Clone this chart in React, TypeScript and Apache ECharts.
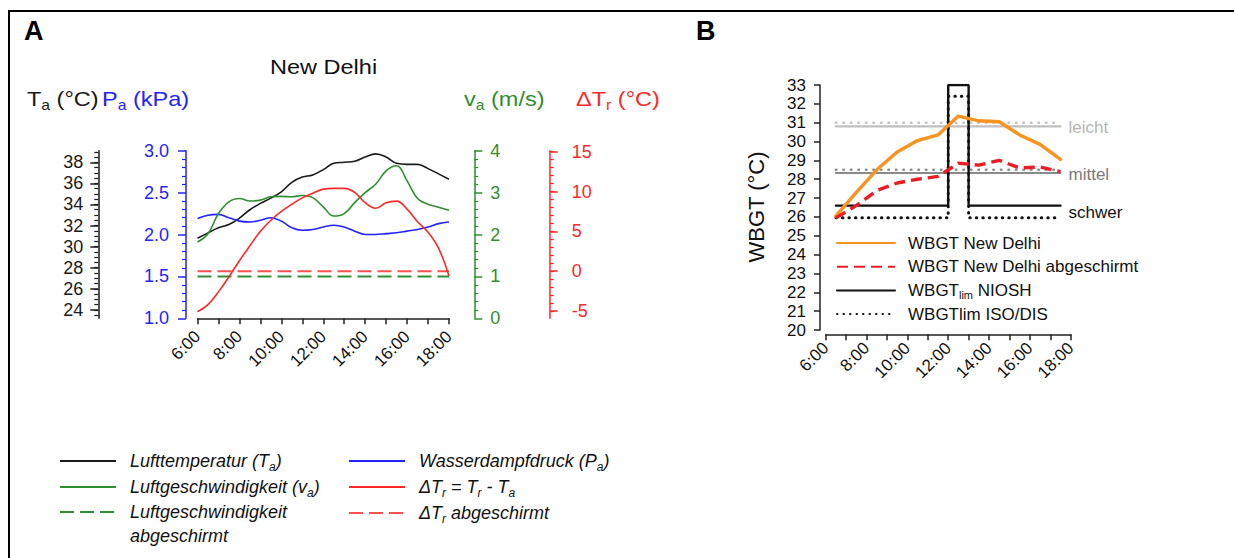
import React, { useEffect, useRef } from 'react';
import * as echarts from 'echarts';

// ---------- Panel A: New Delhi, half-hourly readings ----------
const hoursA = [6, 6.5, 7, 7.5, 8, 8.5, 9, 9.5, 10, 10.5, 11, 11.5, 12, 12.5, 13, 13.5, 14, 14.5, 15, 15.5, 16, 16.5, 17, 17.5, 18];
const airTemp = [30.8, 31.3, 31.8, 32.1, 32.7, 33.5, 34.1, 34.6, 35.2, 36.1, 36.6, 36.8, 37.3, 37.9, 38.0, 38.1, 38.5, 38.8, 38.5, 37.9, 37.8, 37.8, 37.4, 36.9, 36.4];
const vapourPressure = [2.19, 2.23, 2.24, 2.2, 2.16, 2.15, 2.17, 2.2, 2.16, 2.08, 2.05, 2.06, 2.09, 2.11, 2.09, 2.04, 2.0, 2.0, 2.01, 2.02, 2.04, 2.06, 2.09, 2.13, 2.15];
const windSpeed = [1.82, 2.02, 2.5, 2.78, 2.86, 2.8, 2.82, 2.9, 2.91, 2.9, 2.93, 2.88, 2.66, 2.44, 2.5, 2.76, 3.0, 3.2, 3.52, 3.64, 3.28, 2.86, 2.72, 2.65, 2.58];
const deltaTr = [-5.1, -4.2, -2.6, -0.7, 1.3, 3.2, 5.0, 6.4, 7.5, 8.4, 9.2, 9.8, 10.3, 10.4, 10.4, 9.9, 8.6, 7.9, 8.6, 8.8, 7.8, 6.2, 4.9, 2.9, -0.6];
const shieldHours = [6, 18];
const windShielded = [1, 1];
const deltaTrShielded = [0, 0];

const taTicks = [24, 26, 28, 30, 32, 34, 36, 38];
const trTicks = [-5, 0, 5, 10, 15];

// ---------- Panel B: WBGT ----------
const hoursB = [6.5, 7.5, 8.5, 9.5, 10.5, 11.5, 12.5, 13.5, 14.5, 15.5, 16.5, 17.5];
const wbgtDelhi = [26.05, 27.3, 28.5, 29.45, 30.05, 30.35, 31.35, 31.1, 31.05, 30.35, 29.85, 29.05];
const wbgtShielded = [25.95, 26.6, 27.4, 27.8, 28.0, 28.15, 28.85, 28.75, 29.0, 28.6, 28.65, 28.4];
const limitHours = [6.5, 12, 12, 13, 13, 17.5];
const nioshLimit = [26.6, 26.6, 33, 33, 26.6, 26.6];
const isoLimit = [25.95, 25.95, 32.4, 32.4, 25.95, 25.95];
const workHours = [6.5, 17.5];
const lightNiosh = [30.8, 30.8];
const lightIso = [31.0, 31.0];
const moderateNiosh = [28.33, 28.33];
const moderateIso = [28.5, 28.5];

const FONT = '"Liberation Sans", Arial, Helvetica, sans-serif';
const BLACK = '#1a1a1a';
const BLUE = '#2323ff';
const GREEN = '#2e8f2e';
const RED = '#ff2828';

const zip = (xs: number[], ys: number[]) => xs.map((x, i) => [x, ys[i]]);
const steps = (from: number, to: number, step: number) => {
  const out: number[] = [];
  for (let v = from; v <= to + 1e-9; v += step) out.push(Math.round(v * 100) / 100);
  return out;
};
const taMinor = steps(23.5, 39, 0.5);
const trMinor = steps(-5, 15, 1);
const hourLabel = (v: number) => (v % 2 === 0 ? `${v}:00` : '');

const legendNamesA: Record<string, string> = {
  'Lufttemperatur (Ta)': 'Lufttemperatur (T{s|a})',
  'Luftgeschwindigkeit (va)': 'Luftgeschwindigkeit (v{s|a})',
  'Luftgeschwindigkeit abgeschirmt': 'Luftgeschwindigkeit\nabgeschirmt',
  'Wasserdampfdruck (Pa)': 'Wasserdampfdruck (P{s|a})',
  'ΔTr = Tr - Ta': 'ΔT{s|r} = T{s|r} - T{s|a}',
  'ΔTr abgeschirmt': 'ΔT{s|r} abgeschirmt',
};

function buildOption() {
  const lineA = (name: string, xs: number[], ys: number[], y: number, color: string, dashed = false) => ({
    name,
    type: 'line',
    xAxisIndex: 0,
    yAxisIndex: y,
    data: zip(xs, ys),
    smooth: dashed ? false : 0.4,
    symbol: 'none',
    silent: true,
    lineStyle: dashed ? { color, width: 2, type: [14, 6] } : { color, width: 1.6 },
    itemStyle: { color },
  });

  const lineB = (name: string, xs: number[], ys: number[], color: string, width: number, type: any, extra: any = {}) => ({
    name,
    type: 'line',
    xAxisIndex: 1,
    yAxisIndex: 6,
    data: zip(xs, ys),
    symbol: 'none',
    silent: true,
    lineStyle: { color, width, type, cap: 'round' },
    itemStyle: { color },
    ...extra,
  });

  const legendA = (left: number, top: number, data: string[], padTop = 0) => ({
    orient: 'vertical',
    left,
    top,
    height: 160,
    padding: 0,
    itemWidth: 56,
    itemHeight: 14,
    itemGap: 2,
    selectedMode: false,
    data,
    itemStyle: { opacity: 0, borderWidth: 0 },
    formatter: (n: string) => legendNamesA[n] || n,
    textStyle: {
      fontSize: 18,
      fontStyle: 'italic',
      fontFamily: FONT,
      color: '#111',
      lineHeight: 24,
      padding: [padTop, 0, 0, 9],
      rich: {
        s: { fontSize: 12, fontStyle: 'italic', fontFamily: FONT, color: '#111', verticalAlign: 'bottom', lineHeight: 12 },
      },
    },
  });

  const axisTitle = (x: number, main: string, sub: string, rest: string, color: string) => ({
    type: 'text',
    x,
    y: 99,
    scaleX: 1.12,
    silent: true,
    style: {
      text: `${main}{s|${sub}} ${rest}`,
      fill: color,
      fontSize: 21,
      fontFamily: FONT,
      verticalAlign: 'middle',
      textVerticalAlign: 'middle',
      lineHeight: 26,
      rich: {
        s: { fontSize: 14, fontFamily: FONT, fill: color, verticalAlign: 'bottom', lineHeight: 14 },
      },
    },
  });

  return {
    animation: false,
    backgroundColor: '#ffffff',
    textStyle: { fontFamily: FONT },
    grid: [
      { left: 197.5, top: 150.7, width: 251.5, height: 167.6, outerBoundsMode: 'none', containLabel: false },
      { left: 825.7, top: 85, width: 245, height: 245, outerBoundsMode: 'none', containLabel: false },
    ],
    xAxis: [
      {
        gridIndex: 0, type: 'value', min: 6, max: 18, interval: 1, offset: 4.5,
        axisLine: { lineStyle: { color: '#222', width: 1.5 } },
        axisTick: { length: 6, lineStyle: { color: '#222', width: 1.5 } },
        axisLabel: { rotate: 45, fontSize: 17, color: '#111', margin: 11, formatter: hourLabel, fontFamily: FONT },
        splitLine: { show: false },
      },
      {
        gridIndex: 1, type: 'value', min: 6, max: 18, interval: 1, offset: 4.3,
        axisLine: { lineStyle: { color: '#222', width: 1.5 } },
        axisTick: { length: 6, lineStyle: { color: '#222', width: 1.5 } },
        axisLabel: { rotate: 45, fontSize: 17, color: '#111', margin: 11, formatter: hourLabel, fontFamily: FONT },
        splitLine: { show: false },
      },
    ],
    yAxis: [
      // 0: vapour pressure (blue)
      {
        gridIndex: 0, type: 'value', position: 'left', offset: 11.5, min: 1, max: 3, interval: 0.5,
        axisLine: { show: true, lineStyle: { color: BLUE, width: 1.5 } },
        axisTick: { show: true, length: 8, lineStyle: { color: BLUE, width: 1.5 } },
        minorTick: { show: true, splitNumber: 5, length: 4, lineStyle: { color: BLUE, width: 1.2 } },
        axisLabel: { color: BLUE, fontSize: 18, margin: 17, formatter: (v: number) => v.toFixed(1), fontFamily: FONT },
        splitLine: { show: false },
      },
      // 1: air temperature (black)
      {
        gridIndex: 0, type: 'value', position: 'left', offset: 99.2, min: 23.2, max: 39.1,
        axisLine: { show: true, lineStyle: { color: BLACK, width: 1.5 } },
        axisTick: { show: true, length: 8, customValues: taTicks, lineStyle: { color: BLACK, width: 1.5 } },
        axisLabel: { color: BLACK, fontSize: 18, margin: 15, customValues: taTicks, fontFamily: FONT },
        splitLine: { show: false },
      },
      // 2: air temperature minor ticks
      {
        gridIndex: 0, type: 'value', position: 'left', offset: 99.2, min: 23.2, max: 39.1,
        axisLine: { show: false },
        axisTick: { show: true, length: 4, customValues: taMinor, lineStyle: { color: BLACK, width: 1.2 } },
        axisLabel: { show: false },
        splitLine: { show: false },
      },
      // 3: wind speed (green)
      {
        gridIndex: 0, type: 'value', position: 'right', offset: 25.3, min: 0, max: 4, interval: 1,
        axisLine: { show: true, lineStyle: { color: GREEN, width: 1.5 } },
        axisTick: { show: true, length: 8, lineStyle: { color: GREEN, width: 1.5 } },
        minorTick: { show: true, splitNumber: 5, length: 4, lineStyle: { color: GREEN, width: 1.2 } },
        axisLabel: { color: GREEN, fontSize: 18, margin: 16, fontFamily: FONT },
        splitLine: { show: false },
      },
      // 4: delta Tr (red)
      {
        gridIndex: 0, type: 'value', position: 'right', offset: 100.8, min: -5.92, max: 15.13,
        axisLine: { show: true, lineStyle: { color: RED, width: 1.5 } },
        axisTick: { show: true, length: 8, customValues: trTicks, lineStyle: { color: RED, width: 1.5 } },
        axisLabel: { color: RED, fontSize: 18, margin: 22, customValues: trTicks, fontFamily: FONT },
        splitLine: { show: false },
      },
      // 5: delta Tr minor ticks
      {
        gridIndex: 0, type: 'value', position: 'right', offset: 100.8, min: -5.92, max: 15.13,
        axisLine: { show: false },
        axisTick: { show: true, length: 4, customValues: trMinor, lineStyle: { color: RED, width: 1.2 } },
        axisLabel: { show: false },
        splitLine: { show: false },
      },
      // 6: WBGT
      {
        gridIndex: 1, type: 'value', position: 'left', offset: 5.7, min: 20, max: 33, interval: 1,
        axisLine: { show: true, lineStyle: { color: '#222', width: 1.5 } },
        axisTick: { show: true, length: 6, lineStyle: { color: '#222', width: 1.5 } },
        axisLabel: { color: '#111', fontSize: 17, margin: 14, fontFamily: FONT },
        splitLine: { show: false },
      },
    ],
    legend: [
      legendA(59, 449, ['Lufttemperatur (Ta)', 'Luftgeschwindigkeit (va)']),
      legendA(59, 476, ['Luftgeschwindigkeit abgeschirmt'], 24),
      legendA(348, 449, ['Wasserdampfdruck (Pa)', 'ΔTr = Tr - Ta', 'ΔTr abgeschirmt']),
      {
        orient: 'vertical',
        left: 836,
        top: 233,
        height: 120,
        padding: 0,
        itemWidth: 58,
        itemHeight: 14,
        itemGap: 3.7,
        selectedMode: false,
        itemStyle: { opacity: 0, borderWidth: 0 },
        data: ['WBGT New Delhi', 'WBGT New Delhi abgeschirmt', 'WBGTlim NIOSH', 'WBGTlim ISO/DIS'],
        formatter: (n: string) => (n === 'WBGTlim NIOSH' ? 'WBGT{s|lim} NIOSH' : n),
        textStyle: {
          fontSize: 17,
          fontFamily: FONT,
          color: '#111',
          lineHeight: 20,
          padding: [0, 0, 0, 8],
          rich: { s: { fontSize: 11, fontFamily: FONT, color: '#111', verticalAlign: 'bottom', lineHeight: 11 } },
        },
      },
    ],
    series: [
      lineA('Luftgeschwindigkeit abgeschirmt', shieldHours, windShielded, 3, GREEN, true),
      lineA('ΔTr abgeschirmt', shieldHours, deltaTrShielded, 4, '#ff4f4f', true),
      lineA('Lufttemperatur (Ta)', hoursA, airTemp, 1, BLACK),
      lineA('Wasserdampfdruck (Pa)', hoursA, vapourPressure, 0, BLUE),
      lineA('Luftgeschwindigkeit (va)', hoursA, windSpeed, 3, GREEN),
      lineA('ΔTr = Tr - Ta', hoursA, deltaTr, 4, RED),

      lineB('leicht-iso', workHours, lightIso, '#c4c4c4', 2.6, [0.5, 7]),
      lineB('leicht', workHours, lightNiosh, '#c0c0c0', 2.2, 'solid', {
        endLabel: { show: true, formatter: 'leicht', color: '#b5b5b5', fontSize: 17, fontFamily: FONT, distance: 8, offset: [0, 1] },
      }),
      lineB('mittel-iso', workHours, moderateIso, '#8e8e8e', 2.6, [0.5, 7]),
      lineB('mittel', workHours, moderateNiosh, '#8a8a8a', 2.2, 'solid', {
        endLabel: { show: true, formatter: 'mittel', color: '#7a7a7a', fontSize: 17, fontFamily: FONT, distance: 8, offset: [0, 1] },
      }),
      lineB('WBGTlim NIOSH', limitHours, nioshLimit, '#111', 2.4, 'solid', {
        endLabel: { show: true, formatter: 'schwer', color: '#111', fontSize: 17, fontFamily: FONT, distance: 8, offset: [0, 7] },
      }),
      lineB('WBGTlim ISO/DIS', limitHours, isoLimit, '#111', 3, [0.5, 6]),
      lineB('WBGT New Delhi', hoursB, wbgtDelhi, '#f7931e', 3.4, 'solid'),
      lineB('WBGT New Delhi abgeschirmt', hoursB, wbgtShielded, '#ec1c24', 3.4, [11, 6], { lineStyle: { color: '#ec1c24', width: 3.4, type: [11, 6], cap: 'butt' } }),
    ],
    graphic: [
      { type: 'rect', silent: true, shape: { x: 9, y: 11, width: 1240, height: 560 }, style: { fill: 'none', stroke: '#000', lineWidth: 2 } },
      { type: 'text', x: 24, y: 31, silent: true, style: { text: 'A', fill: '#000', fontSize: 27, fontWeight: 'bold', fontFamily: FONT, verticalAlign: 'middle', textVerticalAlign: 'middle' } },
      { type: 'text', x: 696, y: 31, silent: true, style: { text: 'B', fill: '#000', fontSize: 27, fontWeight: 'bold', fontFamily: FONT, verticalAlign: 'middle', textVerticalAlign: 'middle' } },
      { type: 'text', x: 270, y: 67, scaleX: 1.12, silent: true, style: { text: 'New Delhi', fill: '#111', fontSize: 21, fontFamily: FONT, verticalAlign: 'middle', textVerticalAlign: 'middle' } },
      axisTitle(27, 'T', 'a', '(°C)', BLACK),
      axisTitle(102, 'P', 'a', '(kPa)', BLUE),
      axisTitle(464, 'v', 'a', '(m/s)', GREEN),
      axisTitle(576, 'ΔT', 'r', '(°C)', RED),
      {
        type: 'text', x: 756, y: 207, rotation: Math.PI / 2, silent: true,
        style: { text: 'WBGT (°C)', fill: '#111', fontSize: 22, fontFamily: FONT, align: 'center', textAlign: 'center', verticalAlign: 'middle', textVerticalAlign: 'middle' },
      },
    ],
  };
}

export default function App() {
  const ref = useRef<HTMLDivElement>(null);
  useEffect(() => {
    if (!ref.current) return;
    const chart = echarts.init(ref.current, null, { renderer: 'svg' });
    chart.setOption(buildOption() as any);
    return () => chart.dispose();
  }, []);
  return (
    <div
      ref={ref}
      style={{ position: 'fixed', left: 0, top: 0, width: 1234, height: 558, background: '#fff' }}
    />
  );
}
